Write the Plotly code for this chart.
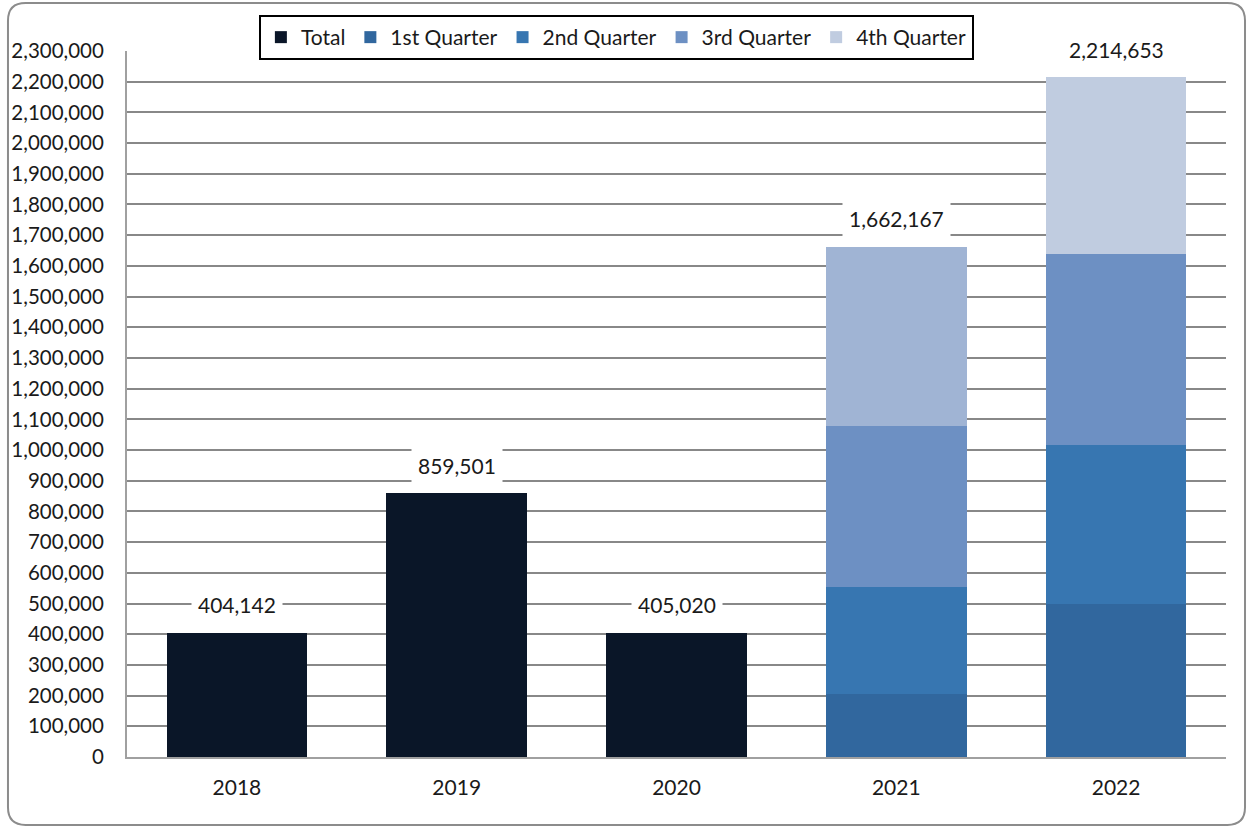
import plotly.graph_objects as go

years = ["2018", "2019", "2020", "2021", "2022"]
total_values = [404142, 859501, 405020, None, None]
q1_values = [None, None, None, 205000, 500000]
q2_values = [None, None, None, 348000, 517000]
q3_values = [None, None, None, 525000, 621000]
q4_values = [None, None, None, 584167, 576653]
label_values = [404142, 859501, 405020, 1662167, 2214653]
y_ticks = list(range(0, 2300001, 100000))

FONT = "Lato"
FS = 21
fig = go.Figure()
fig.add_bar(name="Total", x=years, y=total_values, marker_color="#0A1628")
fig.add_bar(name="1st Quarter", x=years, y=q1_values, marker_color="#31679E")
fig.add_bar(name="2nd Quarter", x=years, y=q2_values, marker_color="#3776B1")
fig.add_bar(name="3rd Quarter", x=years, y=q3_values, marker_color="#6D90C3")
fig.add_bar(name="4th Quarter", x=years, y=q4_values,
            marker_color=["#C0CCE0", "#C0CCE0", "#C0CCE0", "#A0B4D4", "#C0CCE0"])
fig.update_traces(marker_line_width=0)

for i, v in enumerate(label_values):
    fig.add_annotation(x=i, y=v, text=f"{v:,}", showarrow=False, yshift=28,
                       bgcolor="white", borderpad=6,
                       font=dict(family=FONT, size=FS, color="#1a1a1a"))

# rounded chart border
L, R, T, B = -0.1083, 1.0173, 1.068, -0.0963
rx, ry = 0.016, 0.025
path = (f"M {L+rx},{T} L {R-rx},{T} Q {R},{T} {R},{T-ry} L {R},{B+ry} Q {R},{B} {R-rx},{B} "
        f"L {L+rx},{B} Q {L},{B} {L},{B+ry} L {L},{T-ry} Q {L},{T} {L+rx},{T} Z")
fig.add_shape(type="path", path=path, xref="paper", yref="paper",
              line=dict(color="#8C8C8C", width=2), layer="below")

fig.update_layout(
    barmode="stack",
    bargap=0.36,
    width=1248, height=828,
    margin=dict(l=127, r=22, t=51, b=71, autoexpand=False),
    plot_bgcolor="white", paper_bgcolor="white",
    font=dict(family=FONT, size=FS, color="#1a1a1a"),
    legend=dict(orientation="h", x=0.12, y=1.051, xanchor="left", yanchor="top",
                bgcolor="white", bordercolor="black", borderwidth=2,
                font=dict(family=FONT, size=FS, color="#1a1a1a"),
                traceorder="normal", itemwidth=30),
    showlegend=True,
)
fig.update_yaxes(range=[0, 2300000], tickvals=y_ticks,
                 ticktext=[f"{t:,}" for t in y_ticks], automargin=False,
                 tickfont=dict(size=20.5),
                 showgrid=True, gridcolor="#888888", gridwidth=2,
                 showline=True, linecolor="#A0A0A0", linewidth=2,
                 ticks="", ticklabelstandoff=17, zeroline=False)
fig.update_xaxes(type="category", range=[-0.5, 4.5], showline=True, automargin=False,
                 linecolor="#A0A0A0", linewidth=2, ticks="", ticklabelstandoff=11)

fig.write_html("out.html", config={"displayModeBar": False},
               post_script="document.body.style.margin='0';")
